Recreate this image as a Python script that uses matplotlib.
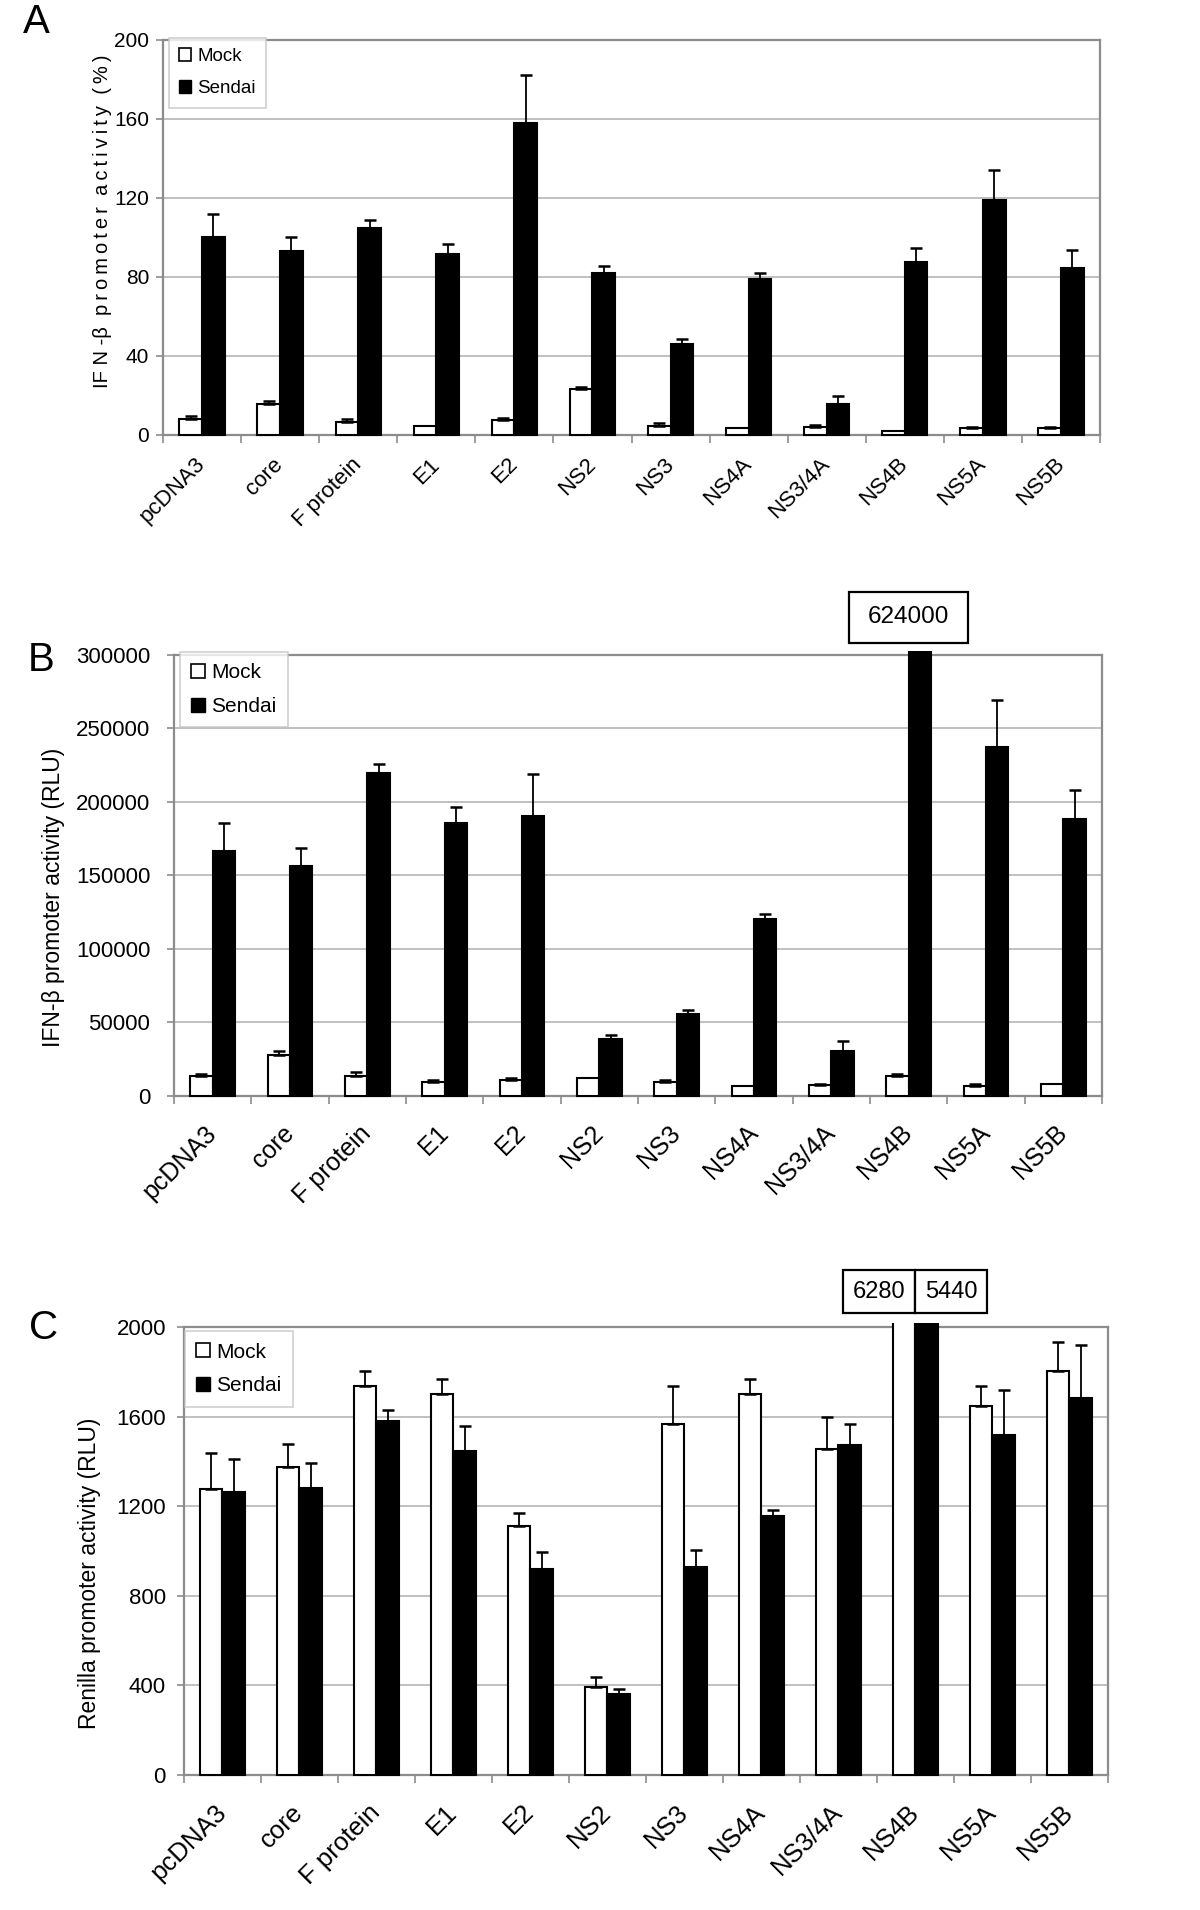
import matplotlib
matplotlib.use("Agg")
import matplotlib.pyplot as plt
from matplotlib import font_manager
from matplotlib.patches import Rectangle, Patch
import numpy as np

# ---------------------------------------------------------------
# data
# ---------------------------------------------------------------
categories = ["pcDNA3", "core", "F protein", "E1", "E2", "NS2", "NS3",
              "NS4A", "NS3/4A", "NS4B", "NS5A", "NS5B"]

# A - IFN-beta promoter activity (%)
a_mock = [8, 15.7, 6.6, 4.6, 7.3, 23.1, 4.6, 3.4, 4.2, 2, 3.4, 3.4]
a_mock_err = [1.4, 1.3, 1.3, 0, 1.3, 1.2, 1.3, 0, 0.6, 0, 0.6, 0.6]
a_sendai = [100, 93.2, 105, 91.8, 158.1, 82, 46.1, 78.8, 15.9, 87.4, 118.8, 84.7]
a_sendai_err = [12, 6.8, 3.7, 5.1, 24, 3.7, 2.5, 3.1, 3.7, 7.1, 15.5, 9.1]

# B - IFN-beta promoter activity (RLU)
b_mock = [13600, 27700, 13600, 9500, 10900, 12300, 9500, 6800, 7300, 13600, 6800, 8200]
b_mock_err = [1600, 2700, 2700, 1400, 1100, 0, 1400, 0, 900, 1600, 1100, 0]
b_sendai = [166300, 156600, 219400, 185800, 190200, 39000, 55800, 120300, 30600,
            624000, 237300, 188600]
b_sendai_err = [19100, 12200, 6600, 10900, 29000, 2800, 2500, 3800, 6600, 0, 32000, 19300]

# C - Renilla promoter activity (RLU)
c_mock = [1278, 1374, 1737, 1703, 1111, 395, 1569, 1701, 1456, 6280, 1649, 1805]
c_mock_err = [159, 104, 68, 67, 59, 43, 168, 69, 141, 0, 87, 127]
c_sendai = [1263, 1280, 1579, 1447, 918, 362, 927, 1157, 1475, 5440, 1518, 1685]
c_sendai_err = [147, 113, 51, 111, 77, 24, 78, 24, 94, 0, 200, 235]

series_labels = ["Mock", "Sendai"]


def pick_font(*names):
    avail = {f.name for f in font_manager.fontManager.ttflist}
    for n in names:
        if n in avail:
            return n
    return "DejaVu Sans"


SANS = pick_font("Liberation Sans", "Arimo", "DejaVu Sans")
FAM = [SANS, "DejaVu Sans"]

FRAME = "#8c8c8c"
GRID = "#c0c0c0"
W = 0.29  # width of one bar, in group units


def draw_panel(ax, mock, mock_err, sendai, sendai_err, ymax, ystep,
               tick_size, ytick_pad, xlab_size, xlab_pad, ylabel, ylab_size,
               ylab_xy, leg_size, leg_anchor, leg_spacing):
    x = np.arange(len(categories))
    # bars may poke just above the frame (broken NS4B bars)
    clip = Rectangle((0, -0.05), 1, 1.06, transform=ax.transAxes)
    bm = ax.bar(x - W / 2, mock, W, color="white", edgecolor="black",
                linewidth=1.5, zorder=3)
    bs = ax.bar(x + W / 2, sendai, W, color="black", edgecolor="black",
                linewidth=1.5, zorder=3)
    for p in list(bm) + list(bs):
        p.set_clip_path(clip)

    for xs, ys, es in ((x - W / 2, mock, mock_err), (x + W / 2, sendai, sendai_err)):
        ys = np.asarray(ys, float)
        es = np.asarray(es, float)
        keep = es > 0
        ax.errorbar(xs[keep], ys[keep], yerr=[np.zeros(keep.sum()), es[keep]],
                    fmt="none", ecolor="black", elinewidth=1.3, capsize=4,
                    capthick=1.8, zorder=4)

    ax.set_xlim(-0.5, len(categories) - 0.5)
    ax.set_ylim(0, ymax)
    ax.set_yticks(np.arange(0, ymax + 1, ystep))
    ax.yaxis.grid(True, color=GRID, linewidth=1.4)
    ax.set_axisbelow(True)
    for s in ax.spines.values():
        s.set_color(FRAME)
        s.set_linewidth(1.6)

    ax.set_xticks(x)
    ax.set_xticklabels(categories, rotation=45, ha="right", va="center",
                       rotation_mode="anchor", fontsize=xlab_size, family=FAM)
    ax.set_xticks(np.arange(-0.5, len(categories)), minor=True)
    ax.tick_params(axis="x", which="major", length=0, pad=xlab_pad)
    ax.tick_params(axis="x", which="minor", length=6, color=FRAME, width=1.2)
    ax.tick_params(axis="y", length=5, color=FRAME, width=1.2, pad=ytick_pad,
                   labelsize=tick_size)
    for t in ax.get_yticklabels():
        t.set_family(FAM)

    ax.set_ylabel(ylabel, fontsize=ylab_size, family=FAM)
    ax.yaxis.set_label_coords(*ylab_xy)

    handles = [Patch(facecolor="white", edgecolor="black", linewidth=1.2),
               Patch(facecolor="black", edgecolor="black")]
    leg = ax.legend(handles, series_labels, loc="upper left",
                    bbox_to_anchor=leg_anchor, borderaxespad=0,
                    frameon=True, fancybox=False, edgecolor="#c4c4c4",
                    handlelength=0.65, handleheight=0.65, handletextpad=0.3,
                    labelspacing=leg_spacing, borderpad=0.55,
                    prop={"family": FAM, "size": leg_size})
    leg.get_frame().set_linewidth(1.2)
    leg.set_zorder(5)


fig = plt.figure(figsize=(12, 19.1), dpi=100)

# ---- A
axA = fig.add_axes([0.1358, 0.7723, 0.7809, 0.2068])
ts = "\u2009"
a_ylabel = ("IF N -\u03b2  " + ts.join("promoter") + "  " + ts.join("activity")
            + "  (" + ts + "%" + ts + ")")
draw_panel(axA, a_mock, a_mock_err, a_sendai, a_sendai_err, 200, 40,
           15, 5, 16, 19, a_ylabel, 14.5, (-0.054, 0.54),
           13.5, (0.0064, 1.005), 0.8)

# ---- B
axB = fig.add_axes([0.145, 0.4262, 0.7733, 0.2309])
draw_panel(axB, b_mock, b_mock_err, b_sendai, b_sendai_err, 300000, 50000,
           16, 12, 18, 24, "IFN-\u03b2 promoter activity (RLU)", 16.5,
           (-0.117, 0.45), 15, (0.0065, 1.007), 0.7)

# ---- C
axC = fig.add_axes([0.1533, 0.0707, 0.77, 0.2345])
draw_panel(axC, c_mock, c_mock_err, c_sendai, c_sendai_err, 2000, 400,
           16, 8, 18.5, 24, "Renilla promoter activity (RLU)", 16.5,
           (-0.09, 0.45), 15, (0.001, 0.991), 0.7)

# value boxes over the broken NS4B bars
i4b = categories.index("NS4B")
transB = axB.get_xaxis_transform()
axB.add_patch(Rectangle((i4b - 0.77, 1.027), 1.54, 0.116, transform=transB,
                        facecolor="white", edgecolor="black", linewidth=1.6,
                        clip_on=False, zorder=6))
axB.text(i4b, 1.085, f"{b_sendai[i4b]}", transform=transB, ha="center",
         va="center", fontsize=17.5, family=FAM, zorder=7)

transC = axC.get_xaxis_transform()
for k, val in enumerate((c_mock[i4b], c_sendai[i4b])):
    x0 = i4b - 0.935 + k * 0.935
    axC.add_patch(Rectangle((x0, 1.031), 0.935, 0.096, transform=transC,
                            facecolor="white", edgecolor="black", linewidth=1.6,
                            clip_on=False, zorder=6))
    axC.text(x0 + 0.4675, 1.079, f"{val}", transform=transC, ha="center",
             va="center", fontsize=17, family=FAM, zorder=7)

# panel letters
for letter, (px, py) in zip("ABC", ((36, 22), (41, 660), (44, 1328))):
    fig.text(px / 1200, 1 - py / 1910, letter, ha="center", va="center",
             fontsize=29, family=FAM)

fig.savefig("out.png", dpi=100)
